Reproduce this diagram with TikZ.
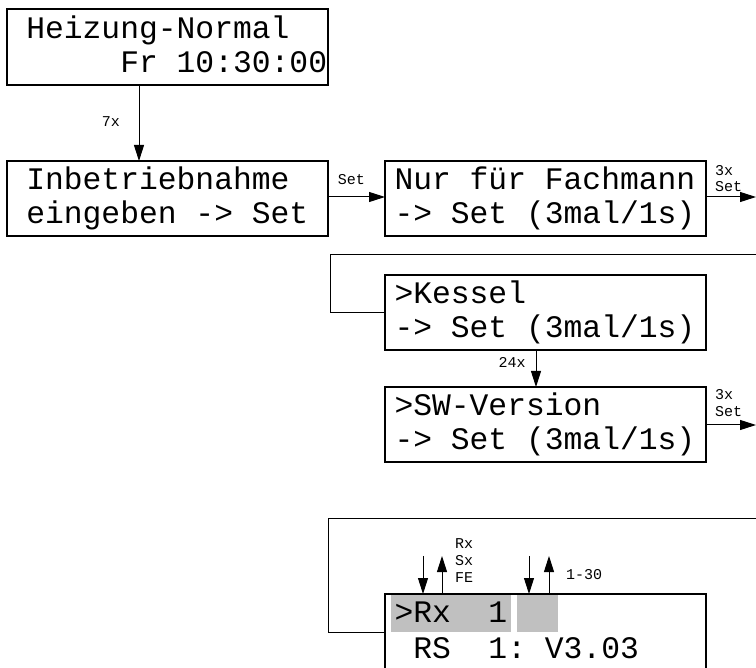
\documentclass[tikz,border=0pt]{standalone}
\usepackage{fontspec}
\newfontfamily\lcd{Liberation Mono}
\usetikzlibrary{arrows.meta}
\definecolor{hl}{RGB}{192,192,192}
\newcommand\cel{\hphantom{0}}
\begin{document}
\begin{tikzpicture}[x=1pt,y=-1pt,
  lcdbox/.style={draw, line width=1.1pt, anchor=north west, inner ysep=0pt, outer sep=0pt,
    minimum height=75pt, align=left, font=\lcd\fontsize{31.33}{34}\selectfont},
  wide/.style={lcdbox, inner xsep=0.5pt, text width=320pt},
  narrow/.style={lcdbox, inner xsep=9.5pt, text width=302pt},
  lbl/.style={font=\lcd\fontsize{15}{16}\selectfont, inner sep=0pt},
  arr/.style={line width=1pt, -{Triangle[length=16pt,width=10pt]}},
  conn/.style={line width=1pt}]
\useasboundingbox (0,0) rectangle (756,668);
\clip (0,0) rectangle (756,668);

% boxes
\node[wide, minimum height=76pt] (b1) at (7,9)
  {\mbox{\rule{0pt}{30pt}\cel Heizung-Normal}\\\mbox{\cel\cel\cel\cel\cel\cel Fr\cel 10:30:00\rule[-12pt]{0pt}{12pt}}};
\node[wide] (b2) at (7,161)
  {\mbox{\rule{0pt}{29pt}\cel Inbetriebnahme}\\\mbox{\cel eingeben\cel ->\cel Set\rule[-12pt]{0pt}{12pt}}};
\node[narrow] (b3) at (385,161)
  {\mbox{\rule{0pt}{29pt}Nur\cel für\cel Fachmann}\\\mbox{->\cel Set\cel (3mal/1s)\rule[-12pt]{0pt}{12pt}}};
\node[narrow] (b4) at (385,275)
  {\mbox{\rule{0pt}{29pt}>Kessel}\\\mbox{->\cel Set\cel (3mal/1s)\rule[-12pt]{0pt}{12pt}}};
\node[narrow] (b5) at (385,387)
  {\mbox{\rule{0pt}{29pt}>SW-Version}\\\mbox{->\cel Set\cel (3mal/1s)\rule[-12pt]{0pt}{12pt}}};

% highlights in the last display
\fill[hl] (391,595) rectangle (511,632);
\fill[hl] (517,595) rectangle (558,632);
\node[narrow] (b6) at (385,594)
  {\mbox{\rule{0pt}{28.5pt}>Rx\cel\cel 1}\\[2pt]\mbox{\cel RS\cel\cel 1:\cel V3.03\rule[-12pt]{0pt}{12pt}}};

% connectors
\draw[arr] (139,0 |- b1.south) -- (139,0 |- b2.north);
\node[lbl] (l7x) at (111,122) {7x};

\coordinate (e1) at (756,197);
\draw[arr] (b2.east |- e1) -- (b3.west |- e1);
\node[lbl] (lset) at (351.5,180) {Set};
\draw[arr] (b3.east |- e1) -- (e1);
\node[lbl, align=left, anchor=west] (l3xa) at (715,178.7) {3x\\Set};

\coordinate (r1) at (756,255);
\coordinate (k1) at (330,255);
\draw[conn] (r1) -- (k1) |- (b4.west);

\draw[arr] (536,0 |- b4.south) -- (536,0 |- b5.north);
\node[lbl] (l24) at (512,362) {24x};

\coordinate (e2) at (756,425);
\draw[arr] (b5.east |- e2) -- (e2);
\node[lbl, align=left, anchor=west, font=\lcd\fontsize{15}{16.7}\selectfont] (l3xb) at (715,403.3) {3x\\Set};

\coordinate (r2) at (756,519);
\coordinate (k2) at (328,519);
\draw[conn] (r2) -- (k2) |- (b6.west);

% selector arrows
\coordinate (d1) at (423,556);
\coordinate (u1) at (442,556);
\coordinate (d2) at (529,556);
\coordinate (u2) at (549,556);
\draw[arr] (d1) -- (d1 |- b6.north);
\draw[arr] (u1 |- b6.north) -- (u1);
\draw[arr] (d2) -- (d2 |- b6.north);
\draw[arr] (u2 |- b6.north) -- (u2);
\node[lbl, align=left, anchor=west, font=\lcd\fontsize{15}{17}\selectfont] (lrx) at (455,561) {Rx\\Sx\\FE};
\node[lbl, anchor=west] (l130) at (566,575) {1-30};
\end{tikzpicture}
\end{document}
